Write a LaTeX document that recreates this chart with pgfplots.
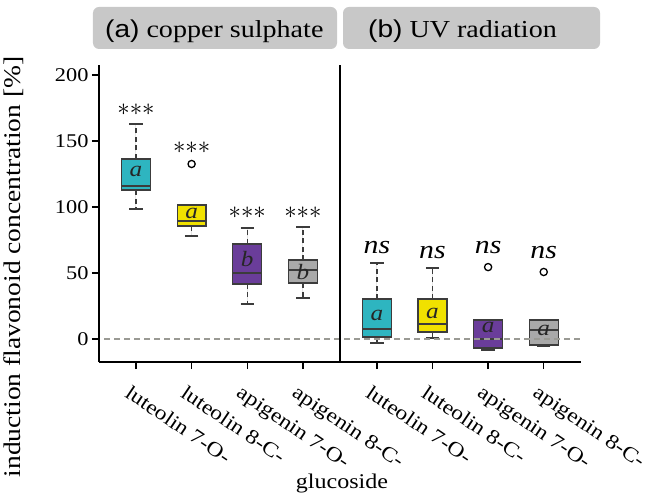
\documentclass[border=0pt]{standalone}
\usepackage{fontspec}
\setmainfont{Liberation Serif}[FakeStretch=1.15]
\newfontfamily\arialfont{Liberation Sans}[FakeStretch=1.15]
\usepackage{pgfplots}
\pgfplotsset{compat=1.18}
\usepgfplotslibrary{statistics}
\definecolor{cteal}{HTML}{2EB5C0}
\definecolor{cyellow}{HTML}{F0E100}
\definecolor{cpurple}{HTML}{6A3D9A}
\definecolor{cgray}{HTML}{A9A9A9}
\definecolor{boxline}{HTML}{3C3C3C}
\definecolor{stripgray}{HTML}{C8C8C8}
\definecolor{zeroline}{HTML}{9A9A94}
\begin{document}
\begin{tikzpicture}
\begin{axis}[
  at={(0,0)}, anchor=south west,
  scale only axis, width=482bp, height=297bp,
  xmin=0.335, xmax=9.0, ymin=-17.4, ymax=207.6,
  axis x line=bottom, axis y line=left,
  axis line style={line width=1.6bp, black, -},
  x axis line style={-}, y axis line style={-},
  tick align=outside,
  xtick={1,2,3,4,5.33,6.33,7.33,8.33},
  xticklabels={luteolin 7-O-, luteolin 8-C-, apigenin 7-O-, apigenin 8-C-,
               luteolin 7-O-, luteolin 8-C-, apigenin 7-O-, apigenin 8-C-},
  ytick={0,50,100,150,200},
  major tick length=7bp,
  tick style={line width=1.4bp, black},
  /pgf/number format/assume math mode=true,
  yticklabel style={font=\fontsize{19.5}{22}\selectfont},
  xticklabel style={font=\fontsize{20.5}{23}\selectfont, rotate=-34, anchor=north west, inner sep=0pt, xshift=5bp, yshift=-15bp},
  clip=false,
  boxplot/draw direction=y,
  boxplot/box extend=0.52,
  boxplot/whisker extend=0.24,
  boxplot/draw/lower whisker/.code={%
    \draw[boxline, line width=1.3bp, dash pattern=on 5bp off 3.5bp]
      (boxplot cs:\pgfplotsboxplotvalue{lower quartile}) -- (boxplot cs:\pgfplotsboxplotvalue{lower whisker});
    \draw[boxline, line width=1.5bp, solid]
      (boxplot whisker cs:\pgfplotsboxplotvalue{lower whisker},0) -- (boxplot whisker cs:\pgfplotsboxplotvalue{lower whisker},1);
  },
  boxplot/draw/upper whisker/.code={%
    \draw[boxline, line width=1.3bp, dash pattern=on 5bp off 3.5bp]
      (boxplot cs:\pgfplotsboxplotvalue{upper quartile}) -- (boxplot cs:\pgfplotsboxplotvalue{upper whisker});
    \draw[boxline, line width=1.5bp, solid]
      (boxplot whisker cs:\pgfplotsboxplotvalue{upper whisker},0) -- (boxplot whisker cs:\pgfplotsboxplotvalue{upper whisker},1);
  },
  every axis plot/.append style={draw=boxline, line width=1.2bp, mark=o, mark size=3.6bp,
     mark options={solid, draw=black, fill=white, line width=1.3bp}},
]
% (a) copper sulphate
\addplot[fill=cteal, boxplot prepared={draw position=1, lower whisker=98.5, lower quartile=112.9, median=115.9, upper quartile=136.4, upper whisker=162.9}] coordinates {};
\addplot[fill=cyellow, boxplot prepared={draw position=2, lower whisker=78, lower quartile=85.6, median=89.4, upper quartile=101.5, upper whisker=101.5}] coordinates {(0,132.6)};
\addplot[fill=cpurple, boxplot prepared={draw position=3, lower whisker=26.5, lower quartile=41.7, median=50, upper quartile=72, upper whisker=84.1}] coordinates {};
\addplot[fill=cgray, boxplot prepared={draw position=4, lower whisker=31, lower quartile=42.4, median=52.3, upper quartile=59.8, upper whisker=84.8}] coordinates {};
% (b) UV radiation
\addplot[fill=cteal, boxplot prepared={draw position=5.33, lower whisker=-3, lower quartile=1.5, median=7.6, upper quartile=30.3, upper whisker=57.6}] coordinates {};
\addplot[fill=cyellow, boxplot prepared={draw position=6.33, lower whisker=0.8, lower quartile=5.3, median=11.4, upper quartile=30.3, upper whisker=53.8}] coordinates {};
\addplot[fill=cpurple, boxplot prepared={draw position=7.33, lower whisker=-8.3, lower quartile=-6.8, median=0, upper quartile=14.4, upper whisker=14.4}] coordinates {(0,54.5)};
\addplot[fill=cgray, boxplot prepared={draw position=8.33, lower whisker=-5.6, lower quartile=-4.5, median=6.8, upper quartile=14.4, upper whisker=14.4}] coordinates {(0,50.8)};
% zero reference line
\addplot[zeroline, line width=1.7bp, dash pattern=on 6bp off 4bp, mark=none, forget plot] coordinates {(0.43,0) (9.0,0)};
% panel divider
\draw[line width=1.6bp, black] (axis cs:4.665,-17.4) -- (axis cs:4.665,207.6);
% letters in boxes
\begin{scope}[every node/.style={font=\fontsize{22}{24}\selectfont\itshape, text=black!85}]
\node at (axis cs:1,127) {a};
\node at (axis cs:2,95) {a};
\node at (axis cs:3,60.6) {b};
\node at (axis cs:4,50.7) {b};
\node at (axis cs:5.33,18) {a};
\node at (axis cs:6.33,19.7) {a};
\node at (axis cs:7.33,9) {a};
\node at (axis cs:8.33,6.8) {a};
\end{scope}
% significance
\begin{scope}[every node/.style={font=\fontsize{32}{34}\selectfont}]
\node at (axis cs:1,173.5) {${\ast}{\ast}{\ast}$};
\node at (axis cs:2,144.7) {${\ast}{\ast}{\ast}$};
\node at (axis cs:3,95.5) {${\ast}{\ast}{\ast}$};
\node at (axis cs:4,95.5) {${\ast}{\ast}{\ast}$};
\end{scope}
\begin{scope}[every node/.style={font=\fontsize{26}{28}\selectfont\itshape}]
\node at (axis cs:5.33,69.7) {ns};
\node at (axis cs:6.33,65.9) {ns};
\node at (axis cs:7.33,69.7) {ns};
\node at (axis cs:8.33,65.2) {ns};
\end{scope}
\end{axis}
% facet strips
\fill[stripgray, rounded corners=6bp] (-6bp,313bp) rectangle (238bp,355bp);
\fill[stripgray, rounded corners=6bp] (244bp,313bp) rectangle (501bp,355bp);
\node[anchor=base west, inner sep=0pt, font=\fontsize{24.5}{27}\selectfont] at (6bp,324.5bp) {{\arialfont (a)} copper sulphate};
\node[anchor=base west, inner sep=0pt, font=\fontsize{24.5}{27}\selectfont] at (269bp,324.5bp) {{\arialfont (b)} UV radiation};
% axis titles
\node[rotate=90, anchor=base, inner sep=0pt, font=\fontsize{24}{27}\selectfont] at (-78bp,95bp) {induction flavonoid concentration [\%]};
\node[anchor=base, inner sep=0pt, font=\fontsize{21}{24}\selectfont] at (243bp,-126bp) {glucoside};
\pgfresetboundingbox
\path (-99bp,-134bp) rectangle (550bp,362bp);
\end{tikzpicture}
\end{document}
